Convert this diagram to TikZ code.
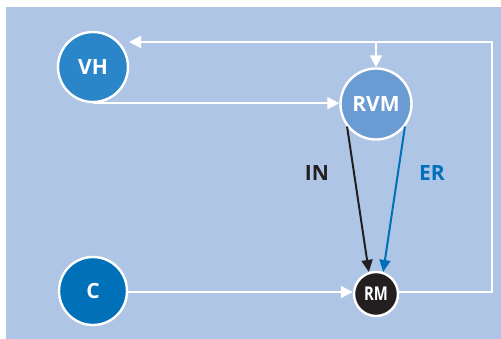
\documentclass[tikz,border=0pt]{standalone}
\usepackage{fontspec}
\setmainfont{Open Sans}
\usetikzlibrary{arrows.meta}
\definecolor{panel}{HTML}{AFC5E5}
\definecolor{vhblue}{HTML}{2A86C8}
\definecolor{rvmblue}{HTML}{6A9BD3}
\definecolor{cblue}{HTML}{0070B8}
\definecolor{rmblack}{HTML}{231F20}
\definecolor{erblue}{HTML}{0070BA}
\tikzset{
  state/.style={circle, draw=white, line width=2.4pt, inner sep=0pt, text=white,
    font=\bfseries\fontsize{21}{21}\selectfont},
  flow/.style={draw=white, line width=2pt, -{Triangle[length=12pt,width=12pt]}},
  link/.style={line width=2pt, -{Triangle[length=12pt,width=11pt]}},
  tag/.style={font=\bfseries\fontsize{21}{21}\selectfont},
}
\begin{document}
\begin{tikzpicture}[x=1pt,y=-1pt]
  \useasboundingbox (0,0) rectangle (501,339);
  \fill[panel] (6,7) rectangle (501,339);

  % states
  \node[state, fill=vhblue, minimum size=70pt] (vh) at (93,67) {VH};
  \node[state, fill=rvmblue, minimum size=71pt] (rvm) at (376,104) {RVM};
  \node[state, fill=cblue, minimum size=68pt] (c) at (93,291) {C};
  \node[state, fill=rmblack, minimum size=44pt,
        font=\bfseries\fontsize{19}{19}\selectfont] (rm) at (376,294) {\scalebox{0.78}[1]{RM}};

  % feedback loop corners and branch point
  \coordinate (fbr) at (492,292);
  \coordinate (fbt) at (492,42);
  \coordinate (tap) at (376,42);
  \coordinate (vhin) at (129,42);

  % forward flows
  \draw[flow] (vh.south) -- (vh.south -| rvm.west);
  \draw[flow] (c.east |- 0,292) -- (rm.west |- 0,292);

  % feedback from RM back to VH, with a branch into RVM
  \draw[draw=white, line width=2pt] (rm.east |- 0,292) -- (fbr) -- (fbt) -- (tap);
  \draw[flow] (tap) -- (vhin);
  \draw[flow] (tap) -- (rvm.north);

  % RVM to RM pathways
  \draw[link, draw=rmblack, fill=rmblack] (rvm.218) -- (rm.108);
  \draw[link, draw=erblue, fill=erblue] (rvm.322) -- (rm.72);

  \node[tag, text=rmblack] (in) at (317,173) {IN};
  \node[tag, text=erblue] (er) at (432,173) {ER};
\end{tikzpicture}
\end{document}
